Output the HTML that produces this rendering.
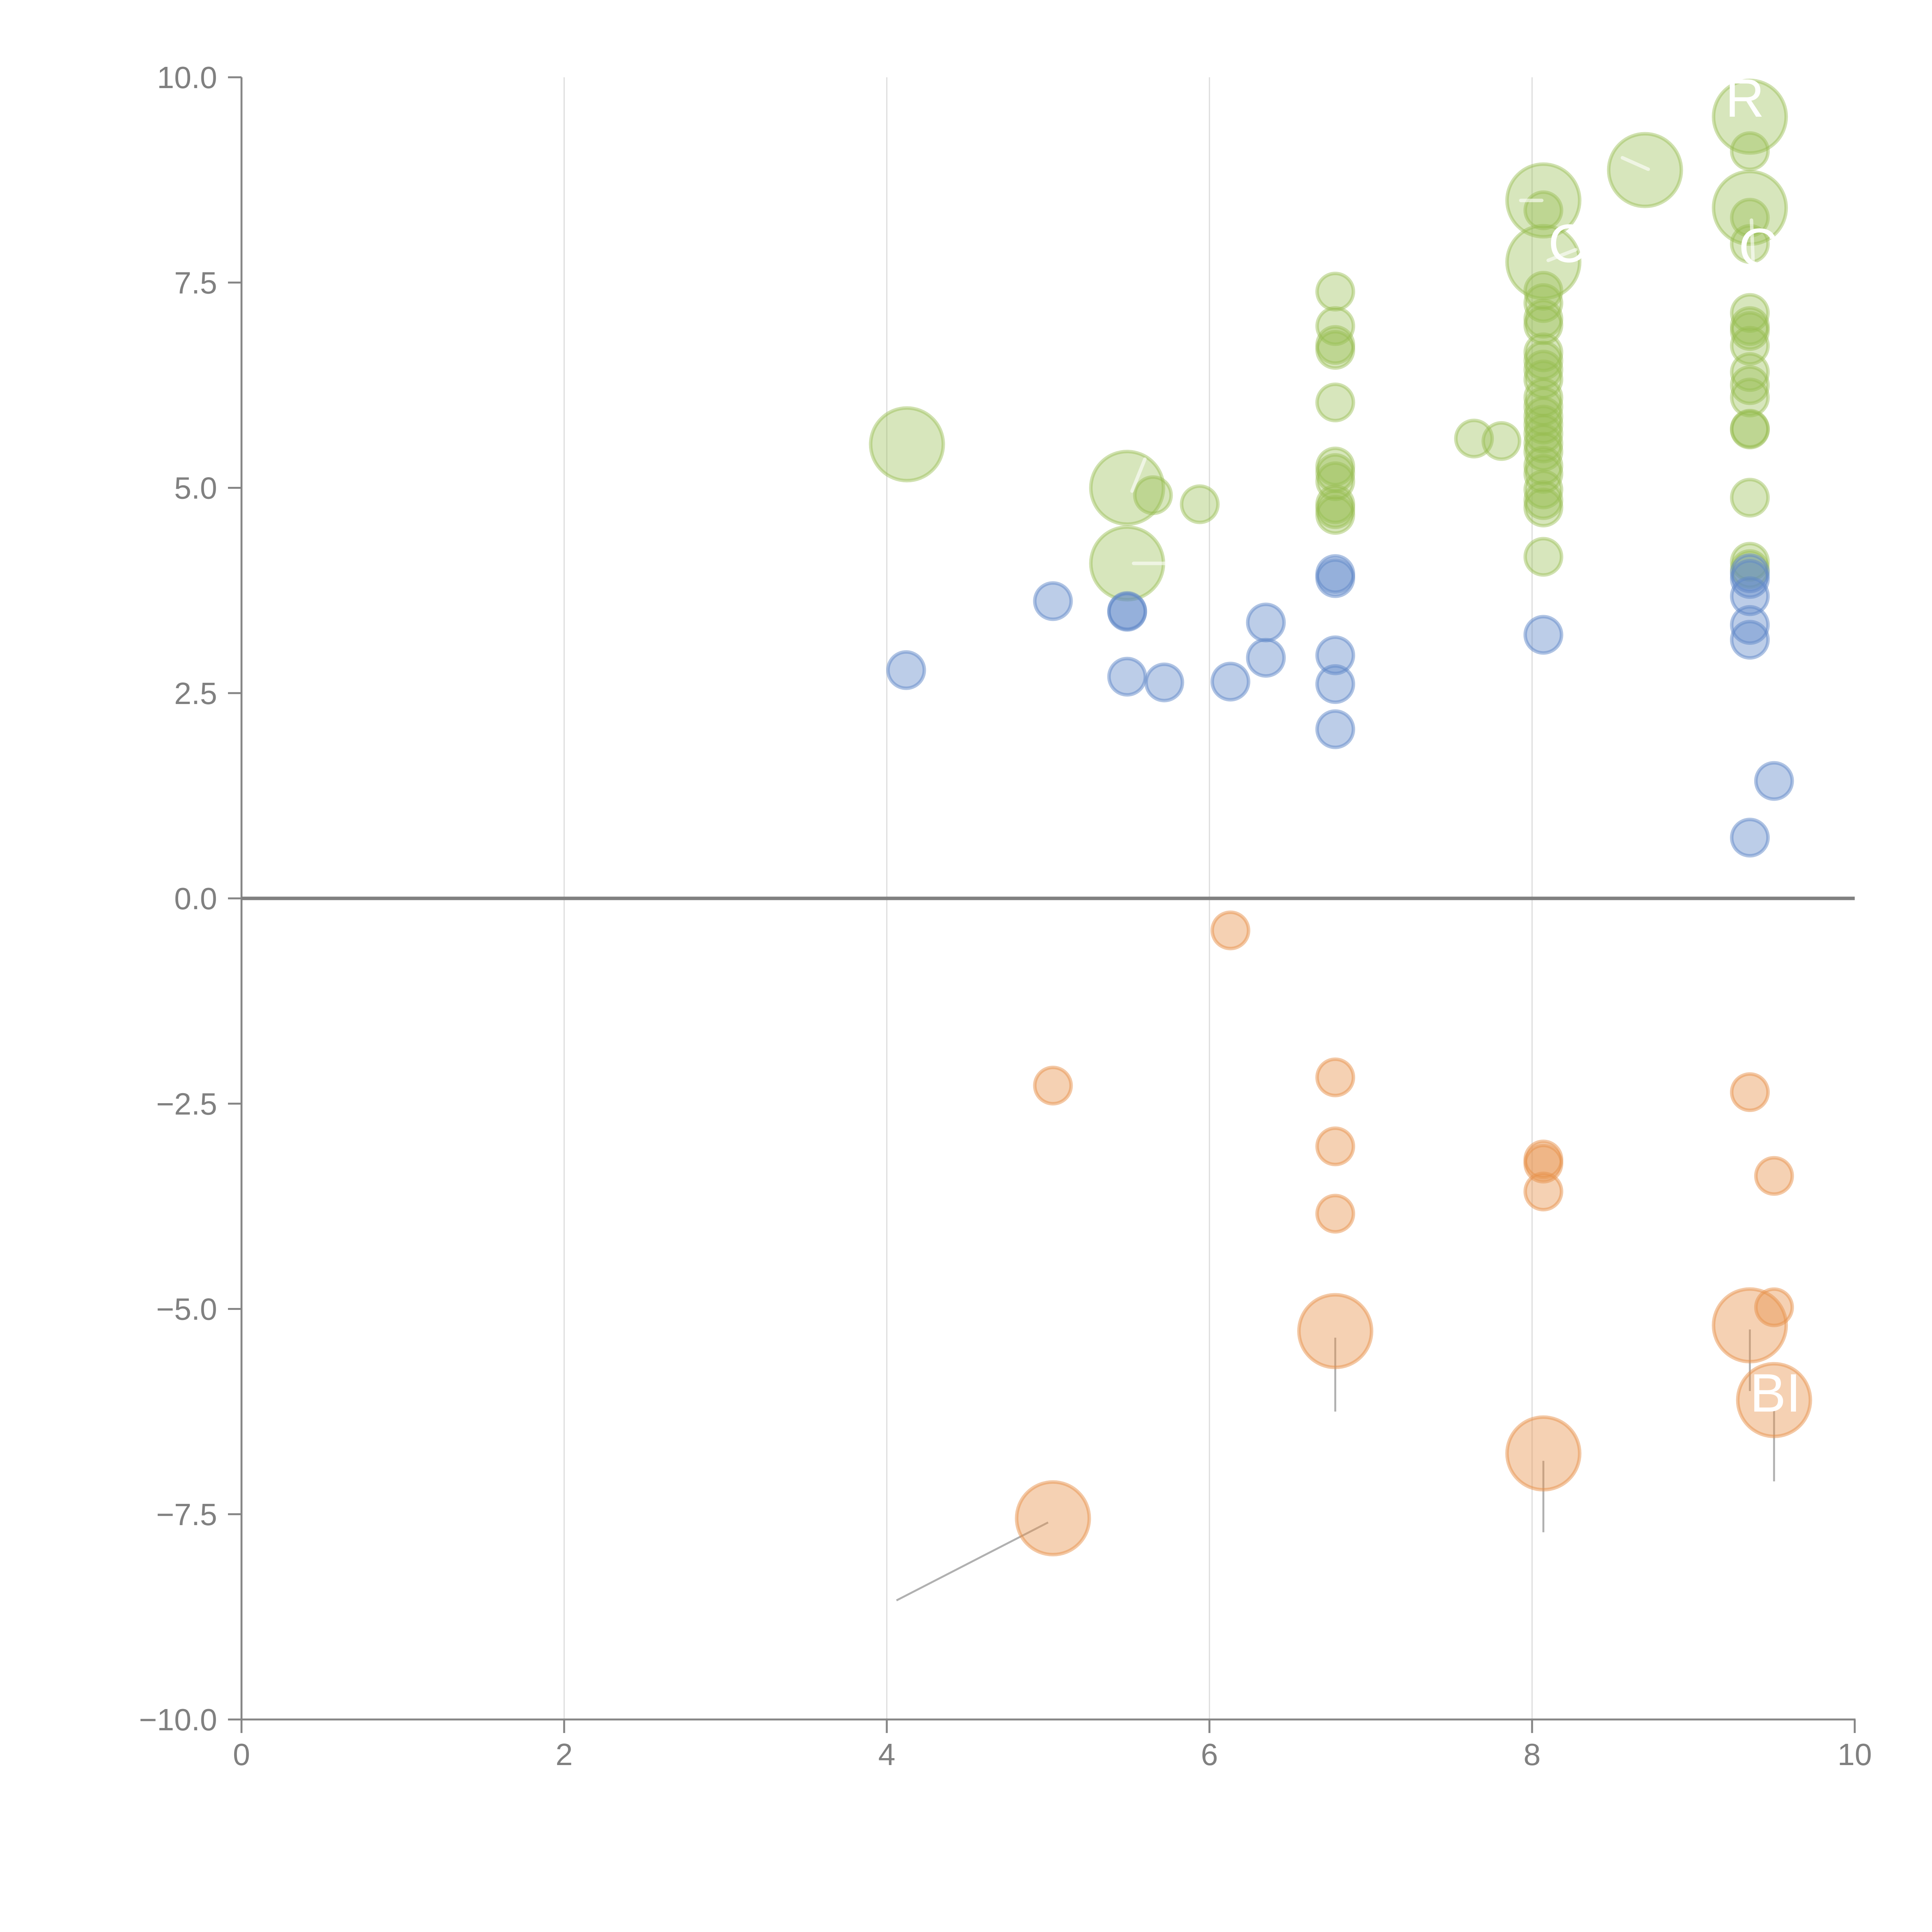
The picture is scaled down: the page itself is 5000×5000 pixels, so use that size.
<!DOCTYPE html>
<html><head><meta charset="utf-8"><style>
html,body{margin:0;padding:0;background:#fff;}
svg{display:block;font-family:"Liberation Sans",Arial,sans-serif;}
</style></head><body>
<svg id="chart" width="5000" height="5000" viewBox="0 0 5000 5000" xmlns="http://www.w3.org/2000/svg"></svg>
<script>
const xTicks=[0,2,4,6,8,10];
const yTicks=[-10,-7.5,-5,-2.5,0,2.5,5,7.5,10];
const yTickLabels=["\u221210.0","\u22127.5","\u22125.0","\u22122.5","0.0","2.5","5.0","7.5","10.0"];
// green series
const greenX=[4.125,5.49,5.49,5.65,5.94,
 6.78,6.78,6.78,6.78,6.78,6.78,6.78,6.78,6.78,6.78,6.78,
 7.64,7.81,
 8.07,8.07,8.07,8.07,8.07,8.07,8.07,8.07,8.07,8.07,8.07,8.07,8.07,8.07,8.07,8.07,8.07,8.07,8.07,8.07,8.07,8.07,8.07,8.07,
 8.70,
 9.35,9.35,9.35,9.35,9.35,9.35,9.35,9.35,9.35,9.35,9.35,9.35,9.35,9.35,9.35,9.35,9.35];
const greenY=[5.53,5.0,4.08,4.91,4.80,
 7.39,6.97,6.74,6.68,6.04,5.26,5.18,5.08,4.80,4.74,4.67,
 5.60,5.57,
 8.50,7.75,8.38,7.40,7.25,7.06,6.98,6.65,6.55,6.44,6.32,6.10,5.99,5.87,5.77,5.66,5.54,5.44,5.27,5.17,4.98,4.85,4.76,4.16,
 8.87,
 9.52,8.41,9.10,8.29,7.97,7.13,6.97,6.91,6.73,6.41,6.25,6.10,5.72,5.71,4.88,4.10,4.01];
const greenS=[4,4,4,1,1,
 1,1,1,1,1,1,1,1,1,1,1,
 1,1,
 4,4,1,1,1,1,1,1,1,1,1,1,1,1,1,1,1,1,1,1,1,1,1,1,
 4,
 4,4,1,1,1,1,1,1,1,1,1,1,1,1,1,1,1];
// blue series
const blueX=[4.12,5.03,5.49,5.49,5.49,5.72,6.13,6.35,6.35,6.78,6.78,6.78,6.78,6.78,8.07,9.35,9.35,9.35,9.35,9.35,9.35,9.50];
const blueY=[2.78,3.62,3.50,3.49,2.70,2.63,2.64,3.36,2.93,3.95,3.90,2.96,2.61,2.06,3.21,3.96,3.89,3.68,3.33,3.15,0.74,1.43];
const blueS=[1,1,1,1,1,1,1,1,1,1,1,1,1,1,1,1,1,1,1,1,1,1];
// orange series
const orangeX=[6.13,5.03,5.03,6.78,6.78,6.78,6.78,8.07,8.07,8.07,8.07,9.35,9.35,9.50,9.50,9.50];
const orangeY=[-0.39,-2.28,-7.55,-2.18,-3.02,-3.84,-5.27,-3.18,-3.23,-3.57,-6.76,-2.36,-5.20,-3.38,-4.98,-6.11];
const orangeS=[1,1,4,1,1,1,4,1,1,1,4,1,4,1,1,4];

const X0=625,X1=4800,Y0=4450,Y1=200;
function sx(v){return X0+(v-0)/(10-0)*(X1-X0);}
function sy(v){return Y0-(v+10)/20*(Y0-Y1);}
function sr(s){return 47*Math.sqrt(s);}
const NS="http://www.w3.org/2000/svg";
const svg=document.getElementById('chart');
function mk(tag,attrs,parent){const e=document.createElementNS(NS,tag);for(const k in attrs)e.setAttribute(k,attrs[k]);(parent||svg).appendChild(e);return e;}

const grid=mk('g',{});


[2,4,6,8].forEach(v=>{const l=mk('line',{x1:sx(v),x2:sx(v),y1:Y1,y2:Y0,stroke:'#dcdcdc','stroke-width':3},grid);

});

const ax=mk('g',{});


const ya=mk('line',{x1:X0,x2:X0,y1:Y1,y2:Y0,stroke:'#858585','stroke-width':5},ax);


const xa=mk('line',{x1:X0-2,x2:X1+2,y1:Y0,y2:Y0,stroke:'#858585','stroke-width':5},ax);


xTicks.forEach(v=>{
 const t=mk('line',{x1:sx(v),x2:sx(v),y1:Y0,y2:Y0+35,stroke:'#858585','stroke-width':5},ax);
 
 
 const tx=mk('text',{x:sx(v),y:Y0+118,'text-anchor':'middle','font-size':80,fill:'#808080'},ax);
 tx.textContent=String(v);
 
 
});
yTicks.forEach((v,i)=>{
 const t=mk('line',{x1:X0-35,x2:X0,y1:sy(v),y2:sy(v),stroke:'#858585','stroke-width':5},ax);
 
 
 const tx=mk('text',{x:X0-63,y:sy(v)+28,'text-anchor':'end','font-size':80,fill:'#808080'},ax);
 tx.textContent=yTickLabels[i];
 
 
});

const leaders=[[4.06,-8.55,5.0,-7.6],[6.78,-5.35,6.78,-6.25],[8.07,-6.85,8.07,-7.72],[9.35,-5.25,9.35,-6.0],[9.50,-6.2,9.50,-7.1]];
leaders.forEach(a=>{const l=mk('line',{x1:sx(a[0]),y1:sy(a[1]),x2:sx(a[2]),y2:sy(a[3]),stroke:'#b0b0b0','stroke-width':5});

});

function drawSeries(xs,ys,ss,fill,stroke,name){
 const g=mk('g',{});
 
 
 xs.forEach((x,i)=>{
  const c=mk('circle',{cx:sx(x),cy:sy(ys[i]),r:sr(ss[i]),fill:fill,stroke:stroke,'stroke-width':9},g);
  
  
 });
}
const z=mk('line',{x1:X0,x2:X1,y1:sy(0),y2:sy(0),stroke:'#808080','stroke-width':9});



drawSeries(greenX,greenY,greenS,'rgba(150,188,80,0.38)','rgba(150,188,80,0.45)','green');
drawSeries(blueX,blueY,blueS,'rgba(95,135,200,0.42)','rgba(95,135,200,0.5)','blue');
drawSeries(orangeX,orangeY,orangeS,'rgba(232,145,75,0.42)','rgba(232,145,75,0.5)','orange');

const wl=[[5.52,4.96,5.6,5.35],[5.53,4.08,5.73,4.08],[8.56,9.02,8.72,8.88],[7.93,8.5,8.06,8.5],[8.1,7.77,8.27,7.9],[9.36,8.26,9.37,7.76]];
wl.forEach(a=>{const l=mk('line',{x1:sx(a[0]),y1:sy(a[1]),x2:sx(a[2]),y2:sy(a[3]),stroke:'rgba(255,255,255,0.6)','stroke-width':9,'stroke-linecap':'round'});

});

const labels=[["R",9.44,9.52,"end"],["C",8.10,7.75,"start"],["C",9.28,7.70,"start"],["BI",9.35,-6.25,"start"]];
labels.forEach(a=>{const t=mk('text',{x:sx(a[1]),y:sy(a[2]),'font-size':140,fill:'#ffffff','text-anchor':a[3]});
t.textContent=a[0];

});
</script>
</body></html>
